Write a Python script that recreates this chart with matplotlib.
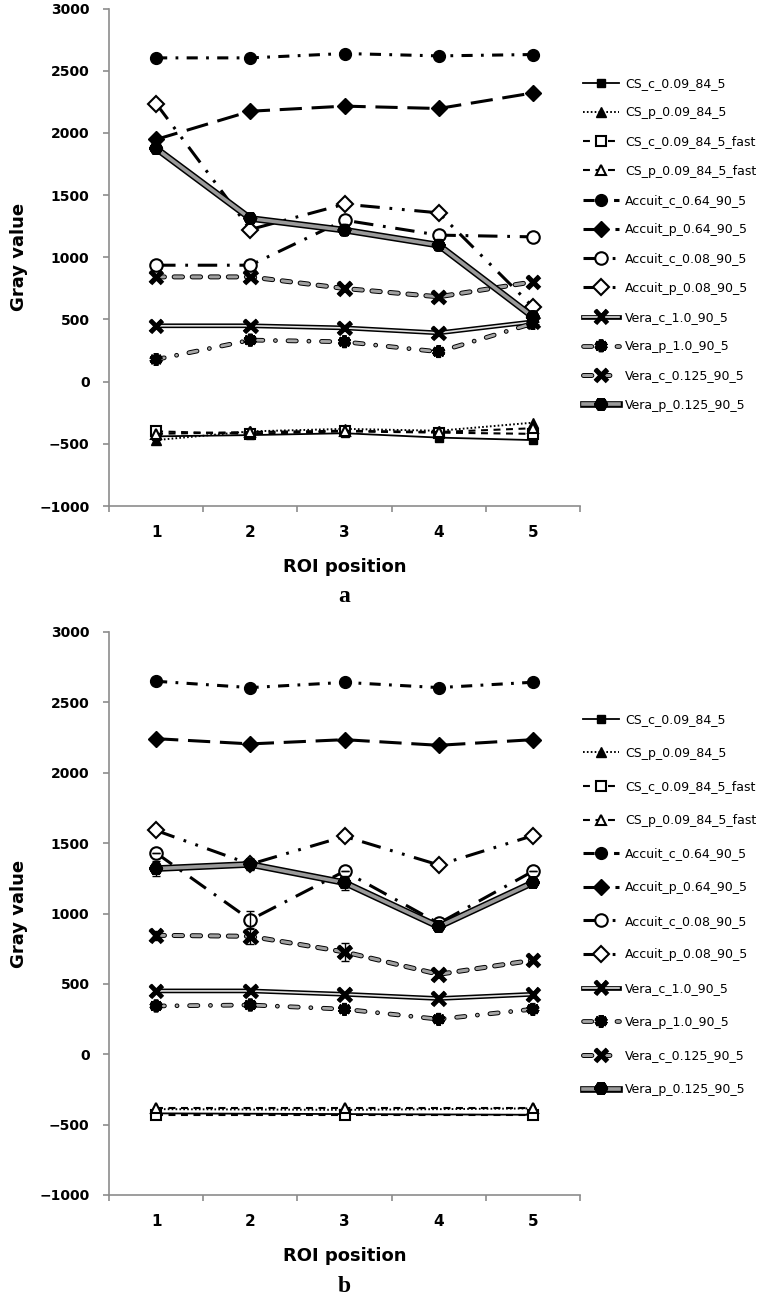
import matplotlib.pyplot as plt
import matplotlib.patheffects as pe

plt.rcParams['font.family'] = ['DejaVu Sans']
plt.rcParams['lines.scale_dashes'] = False

# ROI positions on the x axis
positions = [1, 2, 3, 4, 5]
cs_positions_b = [1, 3, 5]

series_names = ['CS_c_0.09_84_5', 'CS_p_0.09_84_5', 'CS_c_0.09_84_5_fast',
                'CS_p_0.09_84_5_fast', 'Accuit_c_0.64_90_5', 'Accuit_p_0.64_90_5',
                'Accuit_c_0.08_90_5', 'Accuit_p_0.08_90_5', 'Vera_c_1.0_90_5',
                'Vera_p_1.0_90_5', 'Vera_c_0.125_90_5', 'Vera_p_0.125_90_5']

# panel a: gray values per series
a_cs_c = [-440, -430, -415, -450, -470]
a_cs_p = [-470, -400, -380, -395, -330]
a_cs_c_fast = [-400, -420, -400, -410, -420]
a_cs_p_fast = [-420, -405, -395, -405, -375]
a_accuit_c_064 = [2603, 2603, 2638, 2619, 2630]
a_accuit_p_064 = [1947, 2174, 2215, 2196, 2321]
a_accuit_c_008 = [936, 936, 1298, 1178, 1164]
a_accuit_p_008 = [2236, 1223, 1427, 1357, 601]
a_vera_c_10 = [449, 449, 432, 392, 481]
a_vera_p_10 = [178, 334, 320, 240, 468]
a_vera_c_0125 = [842, 842, 749, 682, 802]
a_vera_p_0125 = [1875, 1312, 1218, 1097, 521]

# panel b: gray values per series (CS measured at positions 1, 3, 5 only)
b_cs_c = [-420, -425, -430]
b_cs_p = [-390, -395, -385]
b_cs_c_fast = [-435, -435, -435]
b_cs_p_fast = [-380, -380, -380]
b_accuit_c_064 = [2650, 2605, 2642, 2605, 2643]
b_accuit_p_064 = [2242, 2205, 2235, 2195, 2235]
b_accuit_c_008 = [1430, 955, 1300, 930, 1300]
b_accuit_p_008 = [1590, 1350, 1548, 1345, 1553]
b_vera_c_10 = [450, 450, 426, 396, 426]
b_vera_p_10 = [343, 350, 320, 249, 320]
b_vera_c_0125 = [845, 838, 727, 568, 668]
b_vera_p_0125 = [1319, 1349, 1219, 907, 1219]

# panel b: error bars
b_err_vera_p_0125 = [55, 40, 50, 20, 20]
b_err_vera_c_0125 = [30, 55, 65, 20, 20]
b_err_accuit_c_008 = [0, 60, 0, 0, 0]

outline = lambda w: [pe.Stroke(linewidth=w, foreground='black'), pe.Normal()]

styles = [
    dict(color='black', ls='-', lw=1.3, marker='s', ms=6, mfc='black', mec='black'),
    dict(color='black', ls=(0, (1.2, 1.6)), lw=1.4, marker='^', ms=7, mfc='black', mec='black'),
    dict(color='black', ls=(0, (5, 4)), lw=1.5, marker='s', ms=6.5, mfc='white', mec='black', mew=1.5),
    dict(color='black', ls=(0, (5, 4)), lw=1.5, marker='^', ms=7, mfc='white', mec='black', mew=1.5),
    dict(color='black', ls=(0, (8, 6, 2, 6)), lw=2.2, marker='o', ms=8.5, mfc='black', mec='black'),
    dict(color='black', ls=(0, (16, 7)), lw=2.2, marker='D', ms=8.5, mfc='black', mec='black'),
    dict(color='black', ls=(0, (14, 7, 2, 7)), lw=2.2, marker='o', ms=9, mfc='white', mec='black', mew=1.5),
    dict(color='black', ls=(0, (14, 7, 2, 7, 2, 7)), lw=2.2, marker='D', ms=8, mfc='white', mec='black', mew=1.5),
    dict(color='#e0e0e0', ls='-', lw=1.2, marker='x', ms=9, mec='black', mew=2.6,
         path_effects=outline(3.4)),
    dict(color='#a8a8a8', ls=(0, (6, 9, 0.1, 9)), lw=2.0, dash_capstyle='round', marker=(6, 2, 0),
         ms=9, mec='black', mew=2.6, path_effects=outline(3.4)),
    dict(color='#a0a0a0', ls=(0, (6, 7)), lw=2.2, dash_capstyle='round', marker='x', ms=9,
         mec='black', mew=2.6, path_effects=outline(3.6)),
    dict(color='#9a9a9a', ls='-', lw=2.6, marker=(6, 2, 0), ms=9, mec='black', mew=2.6,
         path_effects=outline(4.8)),
]

fig = plt.figure(figsize=(7.77, 13), dpi=100)
W, H = 777, 1300


def make_panel(box, data, xs, errs, legend_top, spacing, label, label_y):
    left, top, right, bottom = box
    ax = fig.add_axes([left / W, 1 - bottom / H, (right - left) / W, (bottom - top) / H])
    lines = []
    for name, st, ys, x in zip(series_names, styles, data, xs):
        ln, = ax.plot(x, ys, label=name, **st)
        lines.append(ln)
    for ys, e in errs:
        ax.errorbar(positions, ys, yerr=e, fmt='none', ecolor='black', elinewidth=1.0,
                    capsize=3, capthick=1.0, zorder=5)
    ax.set_xlim(0.5, 5.5)
    ax.set_ylim(-1000, 3000)
    ax.set_yticks(range(-1000, 3001, 500))
    ax.set_yticklabels([str(v).replace('-', '\u2212') for v in range(-1000, 3001, 500)])
    ax.set_xticks(positions)
    ax.set_xticks([0.5, 1.5, 2.5, 3.5, 4.5, 5.5], minor=True)
    for s in ['top', 'right']:
        ax.spines[s].set_visible(False)
    for s in ['left', 'bottom']:
        ax.spines[s].set_color('#8c8c8c')
        ax.spines[s].set_linewidth(1.2)
    ax.tick_params(axis='y', direction='out', length=4, width=1.2, color='#8c8c8c', pad=10,
                   labelsize=10)
    ax.tick_params(axis='x', which='major', length=0, pad=14, labelsize=11)
    ax.tick_params(axis='x', which='minor', direction='out', length=4.5, width=1.2, color='#8c8c8c')
    for t in ax.get_xticklabels() + ax.get_yticklabels():
        t.set_fontweight('bold')

    fig.legend(handles=lines, loc='upper left', bbox_to_anchor=(583 / W, 1 - legend_top / H),
               frameon=False, fontsize=9, handlelength=2.9, handletextpad=0.45,
               labelspacing=spacing, borderpad=0, borderaxespad=0, numpoints=1)

    cx = (left + right) / 2
    fig.text(19 / W, 1 - ((top + bottom) / 2) / H, 'Gray value', rotation=90, ha='center',
             va='center', fontsize=13, fontweight='bold')
    fig.text(cx / W, 1 - label_y / H, 'ROI position', ha='center', va='center',
             fontsize=13, fontweight='bold')
    fig.text(cx / W, 1 - (label_y + 30) / H, label, ha='center', va='center', fontsize=17,
             fontweight='bold', family='Liberation Serif')
    return ax


data_a = [a_cs_c, a_cs_p, a_cs_c_fast, a_cs_p_fast, a_accuit_c_064, a_accuit_p_064,
          a_accuit_c_008, a_accuit_p_008, a_vera_c_10, a_vera_p_10, a_vera_c_0125, a_vera_p_0125]
xs_a = [positions] * 12
make_panel((109, 8.5, 580, 506), data_a, xs_a, [], 77, 1.30, 'a', 567)

data_b = [b_cs_c, b_cs_p, b_cs_c_fast, b_cs_p_fast, b_accuit_c_064, b_accuit_p_064,
          b_accuit_c_008, b_accuit_p_008, b_vera_c_10, b_vera_p_10, b_vera_c_0125, b_vera_p_0125]
xs_b = [cs_positions_b] * 4 + [positions] * 8
errs_b = [(b_vera_p_0125, b_err_vera_p_0125), (b_vera_c_0125, b_err_vera_c_0125),
          (b_accuit_c_008, b_err_accuit_c_008)]
make_panel((109, 632, 580, 1195), data_b, xs_b, errs_b, 713, 1.65, 'b', 1256)

fig.savefig('out.png', dpi=100)
